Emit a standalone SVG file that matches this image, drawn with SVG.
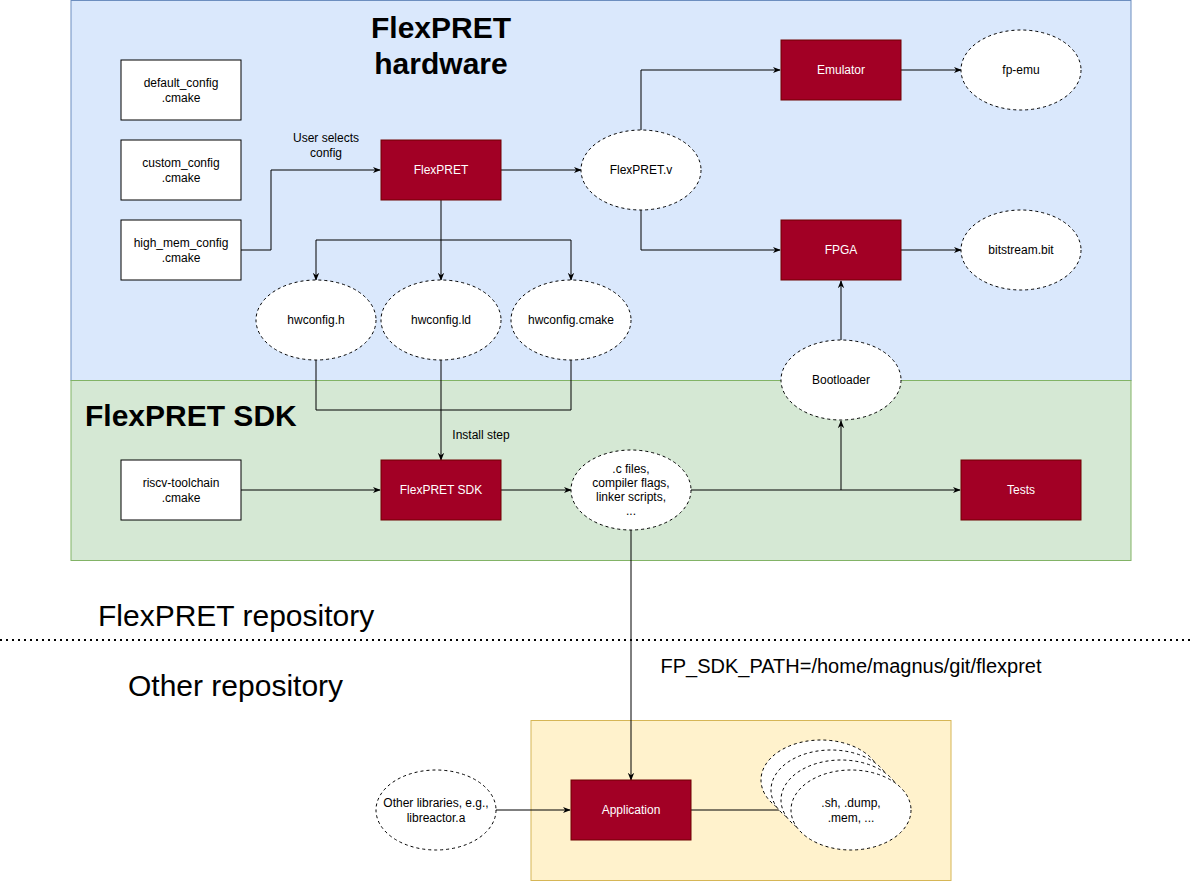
<svg xmlns="http://www.w3.org/2000/svg" width="1194" height="881" viewBox="0 0 1194 881">
<defs>
<marker id="arr" viewBox="0 0 10 10" refX="9" refY="5" markerWidth="8" markerHeight="8" markerUnits="userSpaceOnUse" orient="auto">
<path d="M0,1 L10,5 L0,9 L3,5 Z" fill="#000"/>
</marker>
</defs>
<style>
text{font-family:"Liberation Sans",Arial,sans-serif;font-size:12px;fill:#000;text-anchor:middle}
.box{fill:#fff;stroke:#000;stroke-width:1}
.red{fill:#a20025;stroke:#6f0000;stroke-width:1}
.red+text,.wt{fill:#fff}
.ell{fill:#fff;stroke:#000;stroke-width:1;stroke-dasharray:3 3}
.edge{fill:none;stroke:#000;stroke-width:1}
.big{font-size:30px;text-anchor:start}
.title{font-size:30px;font-weight:bold}
</style>
<rect id="hw-region" x="71" y="0.5" width="1060" height="380" fill="#dae8fc" stroke="#6c8ebf"/>
<rect id="sdk-region" x="71" y="380.5" width="1060" height="180" fill="#d5e8d4" stroke="#82b366"/>
<rect id="app-region" x="531" y="720.5" width="420" height="160" fill="#fff2cc" stroke="#d6b656"/>
<text class="title" x="441" y="38">FlexPRET</text>
<text class="title" x="441" y="74">hardware</text>
<text class="title" x="85" y="426" style="text-anchor:start">FlexPRET SDK</text>
<line x1="0" y1="640" x2="1194" y2="640" stroke="#000" stroke-width="2" stroke-dasharray="2 4"/>
<text class="big" x="98" y="626">FlexPRET repository</text>
<text class="big" x="128" y="696">Other repository</text>
<text x="851" y="673" style="font-size:20px">FP_SDK_PATH=/home/magnus/git/flexpret</text>

<g id="connectors">
<path class="edge" d="M241,250 H271 V170 H380" marker-end="url(#arr)"/>
<path class="edge" d="M501,170 H581" marker-end="url(#arr)"/>
<path class="edge" d="M641,130 V70 H780" marker-end="url(#arr)"/>
<path class="edge" d="M641,210 V250 H780" marker-end="url(#arr)"/>
<path class="edge" d="M901,70 H961" marker-end="url(#arr)"/>
<path class="edge" d="M901,250 H961" marker-end="url(#arr)"/>
<path class="edge" d="M441,200 V280" marker-end="url(#arr)"/>
<path class="edge" d="M441,240 H316 V280" marker-end="url(#arr)"/>
<path class="edge" d="M441,240 H571 V280" marker-end="url(#arr)"/>
<path class="edge" d="M316,360 V410 H571 V360"/>
<path class="edge" d="M441,360 V460" marker-end="url(#arr)"/>
<path class="edge" d="M241,490 H380" marker-end="url(#arr)"/>
<path class="edge" d="M501,490 H571" marker-end="url(#arr)"/>
<path class="edge" d="M691,490 H960" marker-end="url(#arr)"/>
<path class="edge" d="M841,490 V421" marker-end="url(#arr)"/>
<path class="edge" d="M841,340 V281" marker-end="url(#arr)"/>
<path class="edge" d="M631,530 V780" marker-end="url(#arr)"/>
<path class="edge" d="M496,810 H570" marker-end="url(#arr)"/>
<path class="edge" d="M691,810 H782"/>
<text x="326" y="142">User selects</text>
<text x="326" y="157">config</text>
<text x="481" y="439">Install step</text>
</g>

<g id="default_config"><rect class="box" x="121" y="60" width="120" height="60"/><text x="181" y="87">default_config</text><text x="181" y="102">.cmake</text></g>
<g id="custom_config"><rect class="box" x="121" y="140" width="120" height="60"/><text x="181" y="167">custom_config</text><text x="181" y="182">.cmake</text></g>
<g id="high_mem_config"><rect class="box" x="121" y="220" width="120" height="60"/><text x="181" y="247">high_mem_config</text><text x="181" y="262">.cmake</text></g>
<g id="flexpret"><rect class="red" x="381" y="140" width="120" height="60"/><text class="wt" x="441" y="174">FlexPRET</text></g>
<g id="flexpret_v"><ellipse class="ell" cx="641" cy="170" rx="60" ry="40"/><text x="641" y="174">FlexPRET.v</text></g>
<g id="emulator"><rect class="red" x="781" y="40" width="120" height="60"/><text class="wt" x="841" y="74">Emulator</text></g>
<g id="fp_emu"><ellipse class="ell" cx="1021" cy="70" rx="60" ry="40"/><text x="1021" y="74">fp-emu</text></g>
<g id="fpga"><rect class="red" x="781" y="220" width="120" height="60"/><text class="wt" x="841" y="254">FPGA</text></g>
<g id="bitstream"><ellipse class="ell" cx="1021" cy="250" rx="60" ry="40"/><text x="1021" y="254">bitstream.bit</text></g>
<g id="hwconfig_h"><ellipse class="ell" cx="316" cy="320" rx="60" ry="40"/><text x="316" y="324">hwconfig.h</text></g>
<g id="hwconfig_ld"><ellipse class="ell" cx="441" cy="320" rx="60" ry="40"/><text x="441" y="324">hwconfig.ld</text></g>
<g id="hwconfig_cmake"><ellipse class="ell" cx="571" cy="320" rx="60" ry="40"/><text x="571" y="324">hwconfig.cmake</text></g>
<g id="bootloader"><ellipse class="ell" cx="841" cy="380" rx="60" ry="40"/><text x="841" y="384">Bootloader</text></g>
<g id="riscv_toolchain"><rect class="box" x="121" y="460" width="120" height="60"/><text x="181" y="487">riscv-toolchain</text><text x="181" y="502">.cmake</text></g>
<g id="flexpret_sdk"><rect class="red" x="381" y="460" width="120" height="60"/><text class="wt" x="441" y="494">FlexPRET SDK</text></g>
<g id="c_files"><ellipse class="ell" cx="631" cy="490" rx="60" ry="40"/><text x="631" y="473">.c files,</text><text x="631" y="487">compiler flags,</text><text x="631" y="501">linker scripts,</text><text x="631" y="515">...</text></g>
<g id="tests"><rect class="red" x="961" y="460" width="120" height="60"/><text class="wt" x="1021" y="494">Tests</text></g>
<g id="other_libs"><ellipse class="ell" cx="436" cy="810" rx="60" ry="40"/><text x="436" y="807">Other libraries, e.g.,</text><text x="436" y="822">libreactor.a</text></g>
<g id="application"><rect class="red" x="571" y="780" width="120" height="60"/><text class="wt" x="631" y="814">Application</text></g>
<g id="outputs">
<ellipse class="ell" cx="821" cy="780" rx="60" ry="40"/>
<ellipse class="ell" cx="831" cy="790" rx="60" ry="40"/>
<ellipse class="ell" cx="841" cy="800" rx="60" ry="40"/>
<ellipse class="ell" cx="851" cy="810" rx="60" ry="40"/>
<text x="851" y="807">.sh, .dump,</text><text x="851" y="822">.mem, ...</text>
</g>
</svg>
